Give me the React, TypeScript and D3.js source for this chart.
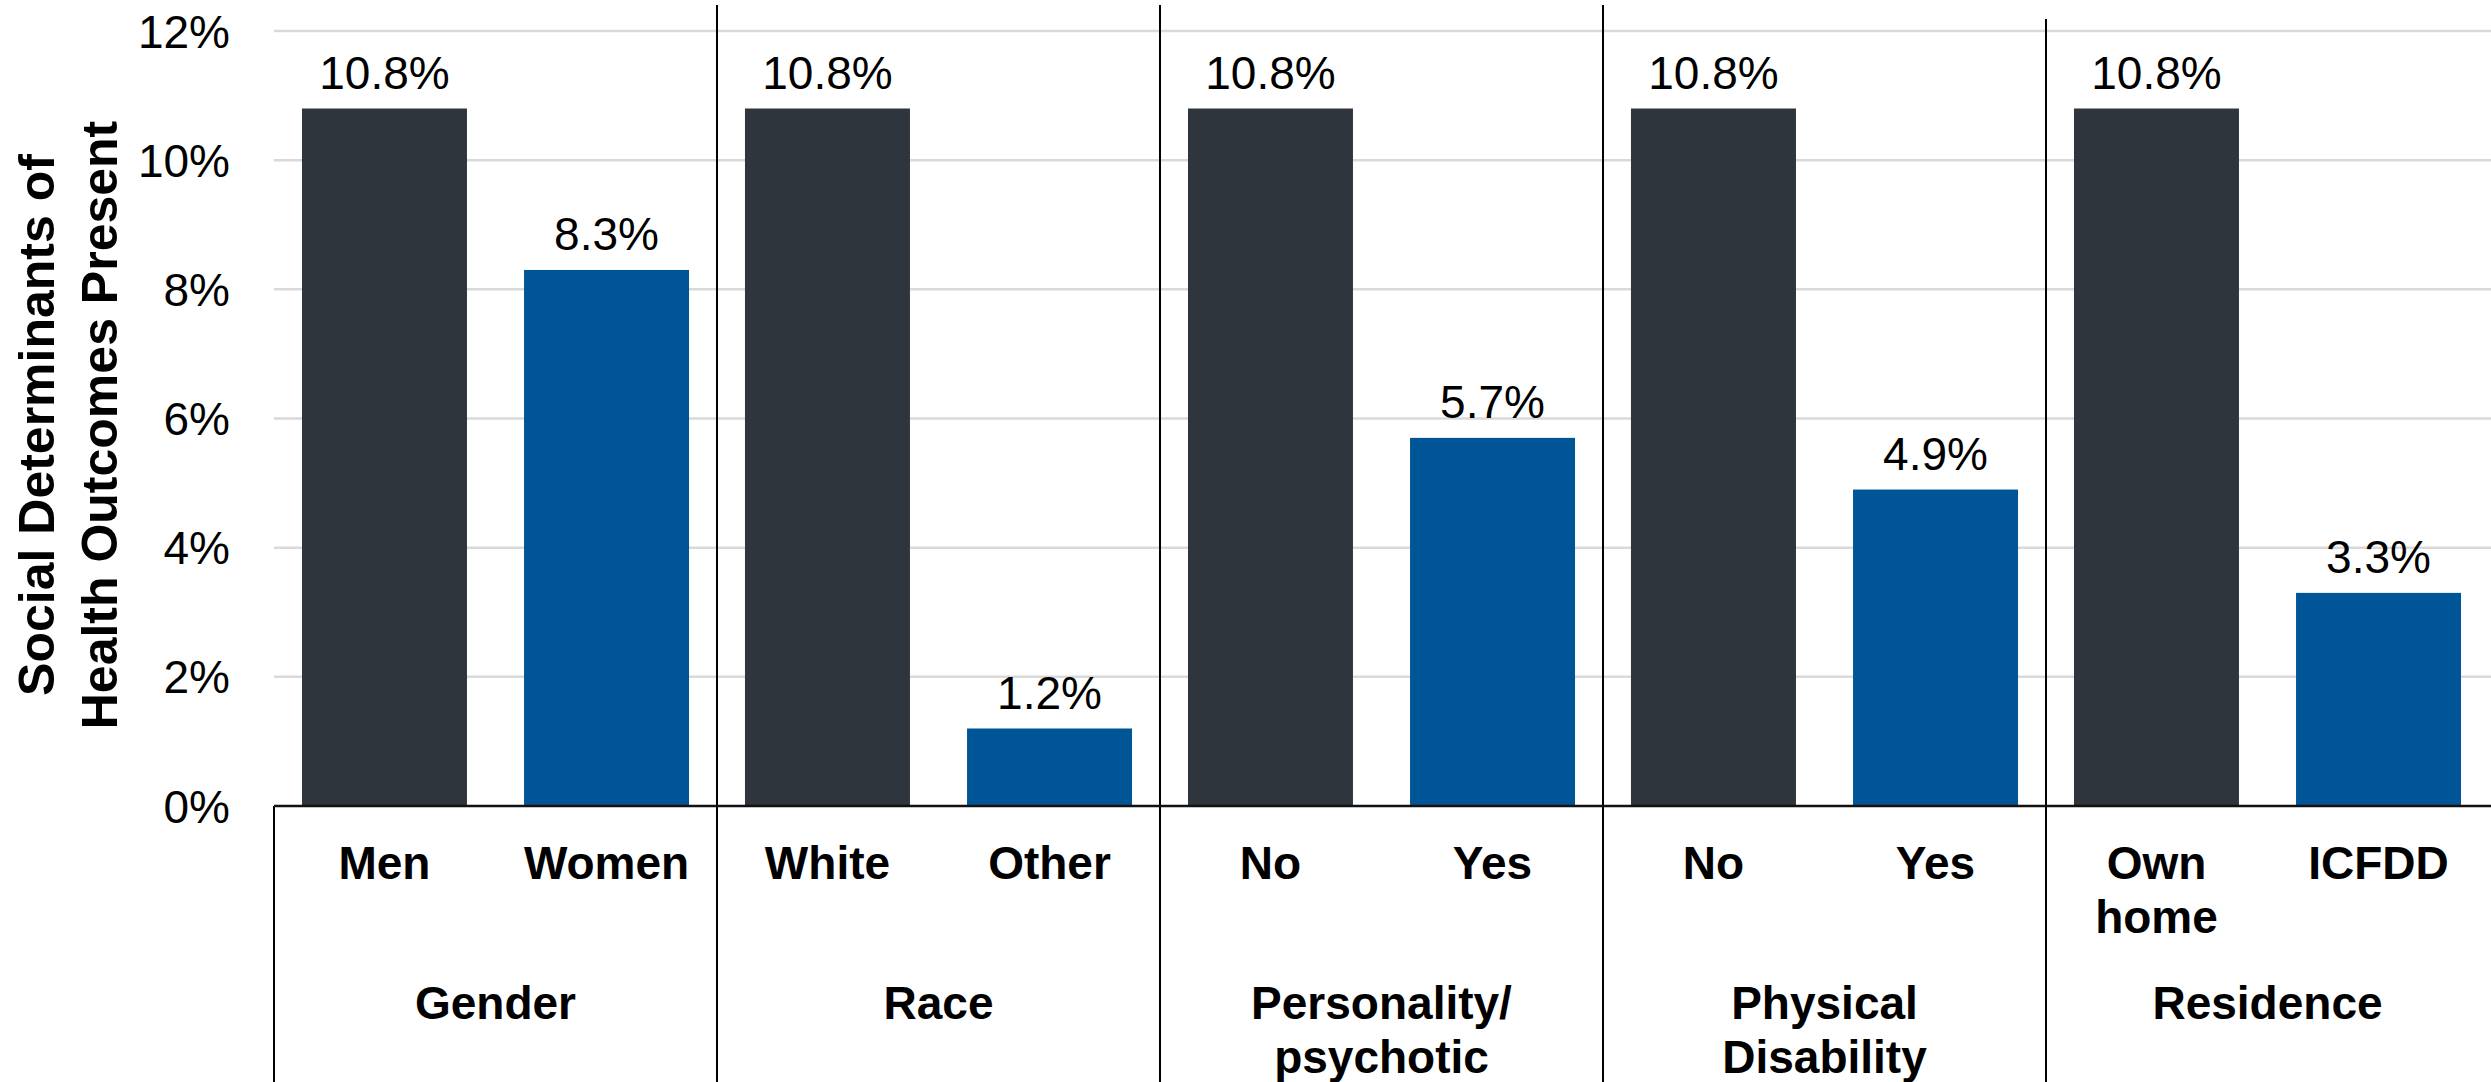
import React from "react";
import * as d3 from "d3";

const groups = ["Gender", "Race", "Personality/\npsychotic", "Physical\nDisability", "Residence"];
const firstCategories = ["Men", "White", "No", "No", "Own\nhome"];
const secondCategories = ["Women", "Other", "Yes", "Yes", "ICFDD"];
const firstValues = [10.8, 10.8, 10.8, 10.8, 10.8];
const secondValues = [8.3, 1.2, 5.7, 4.9, 3.3];
const yTicks = [0, 2, 4, 6, 8, 10, 12];
const yTitle = ["Social Determinants of", "Health Outcomes Present"];

const W = 2491;
const H = 1082;
const left = 274;
const right = 2489;
const top = 31;
const bottom = 806;
const FONT = "Liberation Sans, Arial, Helvetica, sans-serif";
const DARK = "#2E353D";
const BLUE = "#005596";

export default function App() {
  const y = d3.scaleLinear().domain([0, 12]).range([bottom, top]);
  const gx = d3.scaleBand<number>().domain(d3.range(groups.length)).range([left, right]).paddingInner(0).paddingOuter(0);
  const gw = gx.bandwidth();
  const sx = d3.scaleBand<number>().domain([0, 1]).range([0, gw]).paddingInner(0.257).paddingOuter(0.126);
  const bw = sx.bandwidth();

  const bars = groups.flatMap((g, i) => [
    { gi: i, si: 0, label: firstCategories[i], value: firstValues[i], color: DARK },
    { gi: i, si: 1, label: secondCategories[i], value: secondValues[i], color: BLUE },
  ]);

  return (
    <svg width={W} height={H} style={{ position: "absolute", left: 0, top: 0, background: "#fff" }} fontFamily={FONT}>
      <rect x={0} y={0} width={W} height={H} fill="#fff" />
      {/* gridlines */}
      {yTicks.filter((t) => t > 0).map((t) => (
        <line key={"g" + t} x1={left} x2={W} y1={y(t)} y2={y(t)} stroke="#D9D9D9" strokeWidth={2.5} />
      ))}
      {/* y tick labels */}
      {yTicks.map((t) => (
        <text key={"t" + t} x={230} y={y(t)} dy="0.36em" textAnchor="end" fontSize={46} fill="#000">
          {t + "%"}
        </text>
      ))}
      {/* y title */}
      <g transform={`translate(0, 425) rotate(-90)`}>
        {yTitle.map((line, i) => (
          <text key={i} x={0} y={54 + i * 63} textAnchor="middle" fontSize={50} fontWeight="bold" fill="#000">
            {line}
          </text>
        ))}
      </g>
      {/* bars */}
      {bars.map((b) => {
        const x0 = (gx(b.gi) as number) + (sx(b.si) as number);
        return (
          <g key={b.gi + "-" + b.si}>
            <rect x={x0} y={y(b.value)} width={bw} height={bottom - y(b.value)} fill={b.color} />
            <text x={x0 + bw / 2} y={y(b.value) - 20} textAnchor="middle" fontSize={46} fill="#000">
              {b.value.toFixed(1) + "%"}
            </text>
            {b.label.split("\n").map((ln, k) => (
              <text key={k} x={x0 + bw / 2} y={879 + k * 54} textAnchor="middle" fontSize={46} fontWeight="bold" fill="#000">
                {ln}
              </text>
            ))}
          </g>
        );
      })}
      {/* group labels */}
      {groups.map((g, i) => (
        <g key={"gl" + i}>
          {g.split("\n").map((ln, k) => (
            <text key={k} x={(gx(i) as number) + gw / 2} y={1019 + k * 54} textAnchor="middle" fontSize={46} fontWeight="bold" fill="#000">
              {ln}
            </text>
          ))}
        </g>
      ))}
      {/* separators */}
      {groups.slice(1).map((g, i) => (
        <line key={"s" + i} x1={gx(i + 1) as number} x2={gx(i + 1) as number} y1={i === 3 ? 19 : 5} y2={H} stroke="#000" strokeWidth={2} />
      ))}
      <line x1={left} x2={left} y1={bottom} y2={H} stroke="#000" strokeWidth={2} />
      {/* zero axis */}
      <line x1={left} x2={W} y1={bottom} y2={bottom} stroke="#111" strokeWidth={2.5} />
    </svg>
  );
}
